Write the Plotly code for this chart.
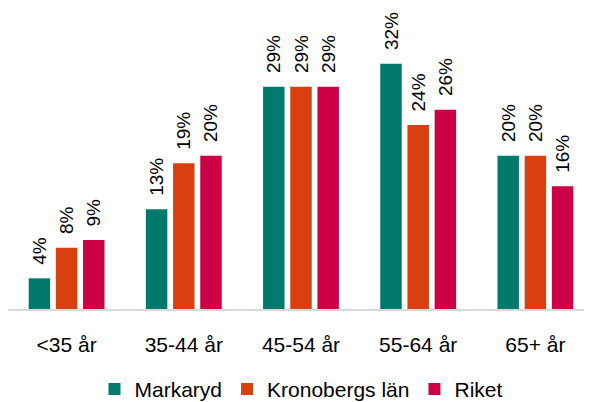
import plotly.graph_objects as go

categories = ["<35 år", "35-44 år", "45-54 år", "55-64 år", "65+ år"]
markaryd = [4, 13, 29, 32, 20]
kronoberg = [8, 19, 29, 24, 20]
riket = [9, 20, 29, 26, 16]
series_names = ["Markaryd", "Kronobergs län", "Riket"]
colors = ["#007A6C", "#D9400F", "#CC0044"]

FONT = "Liberation Sans, Arial, sans-serif"
PAD = "\u00a0\u00a0"  # extra gap between bar top and its label

fig = go.Figure()
for name, vals, col in zip(series_names, [markaryd, kronoberg, riket], colors):
    fig.add_trace(go.Bar(
        x=categories, y=vals, name=name,
        marker=dict(color=col, line=dict(width=0)),
        text=[f"{PAD}{v}%" for v in vals],
        textposition="outside", textangle=-90,
        textfont=dict(family=FONT, size=19, color="#000000"),
        cliponaxis=False,
    ))

# page body has an 8px margin: compensate in figure margins
fig.update_layout(
    width=592, height=402,
    margin=dict(l=0, r=6, t=2, b=97),
    paper_bgcolor="white", plot_bgcolor="white",
    barmode="group", bargap=0.304, bargroupgap=0.211,
    uniformtext=dict(minsize=19, mode="show"),
    font=dict(family=FONT, size=21, color="#000000"),
    xaxis=dict(showline=True, linecolor="#D9D9D9", linewidth=2, ticks="",
               tickfont=dict(size=21), showgrid=False, ticklabelstandoff=16),
    yaxis=dict(range=[0, 39], visible=False, showgrid=False, zeroline=False),
    legend=dict(orientation="h", x=0.5, xanchor="center", y=-0.2, yanchor="top",
                font=dict(size=21), itemwidth=30, traceorder="normal"),
    showlegend=True,
)

fig.write_html("out.html")
